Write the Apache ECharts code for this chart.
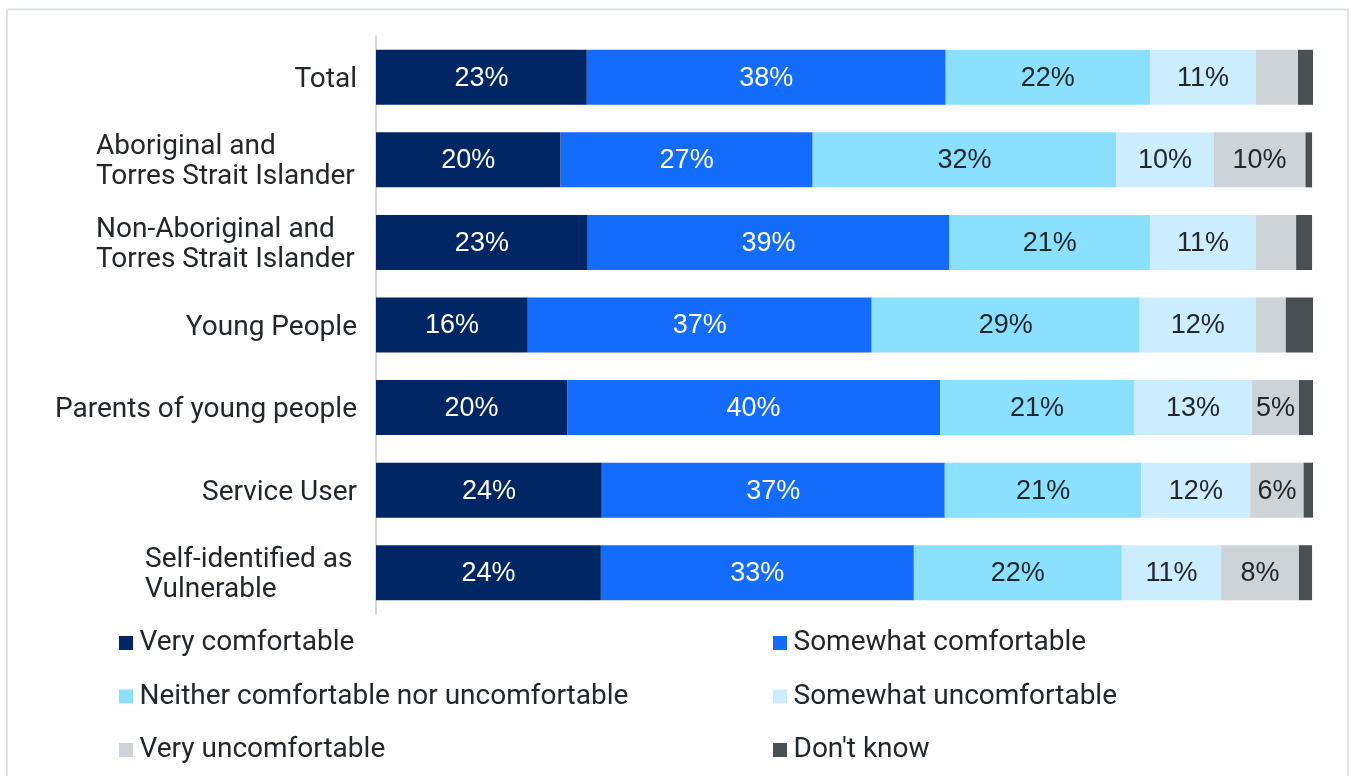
<!DOCTYPE html>
<html>
<head>
<meta charset="utf-8">
<script src="https://cdn.jsdelivr.net/npm/echarts@6/dist/echarts.min.js"></script>
<style>
html,body{margin:0;padding:0;background:#fff;}
#chart{width:1351px;height:776px;}
</style>
</head>
<body>
<div id="chart"></div>
<script>
const categories = ['Total', 'Aboriginal and\nTorres Strait Islander', 'Non-Aboriginal and\nTorres Strait Islander', 'Young People', 'Parents of young people', 'Service User', 'Self-identified as\nVulnerable'];
const seriesNames = ['Very comfortable', 'Somewhat comfortable', 'Neither comfortable nor uncomfortable', 'Somewhat uncomfortable', 'Very uncomfortable', "Don't know"];
const veryComfortable = [22.5, 19.7, 22.6, 16.2, 20.4, 24.1, 24.0];
const somewhatComfortable = [38.3, 26.9, 38.6, 36.7, 39.8, 36.6, 33.4];
const neither = [21.8, 32.4, 21.4, 28.6, 20.7, 21.0, 22.2];
const somewhatUncomfortable = [11.3, 10.4, 11.3, 12.4, 12.6, 11.6, 10.6];
const veryUncomfortable = [4.5, 9.8, 4.3, 3.2, 5.0, 5.7, 8.3];
const dontKnow = [1.6, 0.7, 1.7, 2.9, 1.5, 1.0, 1.4];

const allData = [veryComfortable, somewhatComfortable, neither, somewhatUncomfortable, veryUncomfortable, dontKnow];
const colors = ['#002664', '#146CFD', '#8CE0FF', '#CBEDFD', '#CDD3D6', '#495054'];
const labelColors = ['#ffffff', '#ffffff', '#22272B', '#22272B', '#22272B', '#ffffff'];

const chart = echarts.init(document.getElementById('chart'));
const series = allData.map((d, i) => ({
  name: seriesNames[i],
  type: 'bar',
  stack: 'all',
  data: d,
  barWidth: 55,
  itemStyle: { color: colors[i] },
  label: {
    show: true,
    position: 'inside',
    offset: [0, 1],
    color: labelColors[i],
    fontFamily: 'Liberation Sans',
    fontSize: 27,
    formatter: p => p.value >= 4.75 ? Math.round(p.value) + '%' : ''
  }
}));

// multi-line labels: lines left-aligned inside a right-aligned block
const catFont = { fontFamily: 'Roboto', fontSize: 28, color: '#22272B', lineHeight: 30 };
const richBlocks = {
  a: Object.assign({ width: 261, align: 'left' }, catFont),
  b: Object.assign({ width: 212, align: 'left' }, catFont)
};
function catFormatter(v) {
  if (v.indexOf('\n') < 0) return v;
  const key = v.indexOf('Torres') >= 0 ? 'a' : 'b';
  return v.split('\n').map(s => '{' + key + '|' + s + '}').join('\n');
}

const legendText = { fontFamily: 'Roboto', fontSize: 28, lineHeight: 28, color: '#22272B', padding: [0, 0, 0, 1.5] };
chart.setOption({
  animation: false,
  color: colors,
  graphic: [{
    type: 'rect',
    shape: { x: 7, y: 9.5, width: 1341, height: 780 },
    style: { fill: 'none', stroke: '#dfe3e8', lineWidth: 2 }
  }],
  grid: { left: 376, right: 38, top: 36, bottom: 162 },
  xAxis: { type: 'value', min: 0, max: 100, show: false },
  yAxis: {
    type: 'category',
    data: categories,
    inverse: true,
    axisTick: { show: false },
    axisLine: { show: true, lineStyle: { color: '#d7dbe0', width: 2 } },
    axisLabel: Object.assign({ margin: 19, align: 'right', padding: [5, 0, 0, 0], formatter: catFormatter, rich: richBlocks }, catFont)
  },
  legend: [
    {
      data: [seriesNames[0], seriesNames[2], seriesNames[4]],
      orient: 'vertical', left: 119, top: 629, padding: 0,
      itemWidth: 14, itemHeight: 14, itemGap: 25.5, icon: 'rect',
      textStyle: legendText
    },
    {
      data: [seriesNames[1], seriesNames[3], seriesNames[5]],
      orient: 'vertical', left: 773, top: 629, padding: 0,
      itemWidth: 14, itemHeight: 14, itemGap: 25.5, icon: 'rect',
      textStyle: legendText
    }
  ],
  series: series
});
</script>
</body>
</html>
